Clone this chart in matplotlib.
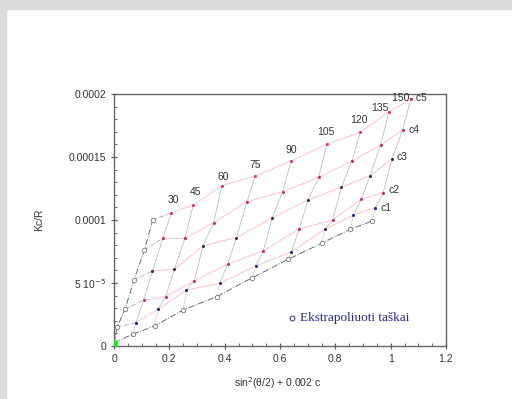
import numpy as np
import matplotlib
matplotlib.use("Agg")
import matplotlib.pyplot as plt
import matplotlib.ticker as ticker
from matplotlib.patches import Rectangle

plt.rcParams['font.family'] = ['Liberation Sans', 'DejaVu Sans']

# kampai (laipsniais) ir koncentracijos
angles = [30, 45, 60, 75, 90, 105, 120, 135, 150]
conc = [6, 20, 36, 55, 70]
conc_labels = ['c1', 'c2', 'c3', 'c4', 'c5']

# Kc/R, vienetais 1e-4 ; eilutes c1..c5, stulpeliai 30..150
kcr = [
    [0.185, 0.291, 0.444, 0.498, 0.635, 0.748, 0.926, 1.040, 1.098],
    [0.365, 0.391, 0.516, 0.648, 0.756, 0.929, 1.000, 1.164, 1.217],
    [0.595, 0.609, 0.796, 0.860, 1.018, 1.159, 1.260, 1.352, 1.484],
    [0.855, 0.855, 0.979, 1.145, 1.225, 1.339, 1.468, 1.595, 1.714],
    [1.056, 1.119, 1.272, 1.349, 1.468, 1.603, 1.696, 1.860, 1.958],
]
# ekstrapoliuoti taskai: theta -> 0 (kiekvienai c) ir c -> 0 (kiekvienam kampui)
theta0_kcr = [0.153, 0.291, 0.524, 0.762, 1.000]
c0_kcr = [0.093, 0.159, 0.286, 0.391, 0.542, 0.688, 0.815, 0.926, 0.992]
intercept = 0.026
scale = 1e-4

point_colors = ['#23237a', '#c8304c', '#333333', '#c8304c', '#d8385a']
row_color = '#f5bcc4'
col_color = '#bcbcd6'
extra_color = '#6a6a6a'

s2 = np.sin(np.radians(angles) / 2) ** 2
X = s2[None, :] + 0.002 * np.array(conc)[:, None]
Y = np.array(kcr) * scale
x_t0 = 0.002 * np.array(conc)
y_t0 = np.array(theta0_kcr) * scale
y_c0 = np.array(c0_kcr) * scale

fig = plt.figure(figsize=(5.12, 3.99), dpi=100)
# pilkas remelis virsuje ir kaireje
fig.patches.append(Rectangle((0, 1 - 9 / 399), 1, 9 / 399, transform=fig.transFigure,
                             color='#dcdcdc', zorder=0))
fig.patches.append(Rectangle((0, 0), 6 / 512, 1, transform=fig.transFigure,
                             color='#dcdcdc', zorder=0))

ax = fig.add_axes([114 / 512, 53 / 399, 332 / 512, 252 / 399])

# eilutes (pastovi c)
for i in range(len(conc)):
    ax.plot(X[i], Y[i], '-', color=row_color, lw=0.6, zorder=2)
    ax.plot([x_t0[i], X[i, 0]], [y_t0[i], Y[i, 0]], '-.', color='#999999',
            lw=0.5, zorder=2)
# stulpeliai (pastovus kampas)
for j in range(len(angles)):
    ax.plot(X[:, j], Y[:, j], '-', color=col_color, lw=0.6, zorder=2)
    ax.plot([s2[j], X[0, j]], [y_c0[j], Y[0, j]], ':', color='#999999',
            lw=0.6, zorder=2)

# ekstrapoliacijos linijos
ax.plot(np.r_[0, x_t0], np.r_[intercept * scale, y_t0], '-.', color=extra_color,
        lw=0.7, zorder=3)
ax.plot(np.r_[0, s2], np.r_[intercept * scale, y_c0], '-.', color=extra_color,
        lw=0.7, zorder=3)
ax.plot(x_t0, y_t0, 'o', mfc='white', mec='#777777', ms=3.2, mew=0.6, zorder=4)
ax.plot(s2, y_c0, 'o', mfc='white', mec='#777777', ms=3.2, mew=0.6, zorder=4)

for i in range(len(conc)):
    ax.plot(X[i], Y[i], 'o', color=point_colors[i], ms=2.2, mew=0, zorder=5)

ax.plot([0], [intercept * scale], 'o', color='#22dd22', ms=5, mew=0, zorder=6)

# kampu uzrasai
angle_offsets = [(2, 13), (2, 13), (1, 9), (0, 11), (0, 11), (-1, 12), (-1, 12), (-9, 4)]
for j, ang in enumerate(angles[:-1]):
    ax.annotate(str(ang), (X[-1, j], Y[-1, j]), xytext=angle_offsets[j],
                textcoords='offset pixels', ha='center', va='center', fontsize=7.5,
                color='#333333')
ax.annotate('150- c5', (X[-1, -1], Y[-1, -1]), xytext=(-1, 1),
            textcoords='offset pixels', ha='center', va='center', fontsize=7.5,
            color='#333333', zorder=7)
c_offsets = [(5, 0), (5, 3), (4, 2), (6, 0)]
for i in range(4):
    ax.annotate(conc_labels[i], (X[i, -1], Y[i, -1]), xytext=c_offsets[i],
                textcoords='offset pixels', ha='left', va='center', fontsize=7.5,
                color='#333333')

# legendos tekstas
ax.plot([0.535], [0.111], 'o', mfc='none', mec='#303080', ms=3.5, mew=0.7,
        transform=ax.transAxes, clip_on=False)
ax.text(0.56, 0.111, 'Ekstrapoliuoti taškai', transform=ax.transAxes,
        family=['Liberation Serif', 'DejaVu Serif'], fontsize=9.5, color='#2a2a80',
        va='center', ha='left')

ax.set_xlim(0, 1.2)
ax.set_ylim(0, 2e-4)
ax.set_xticks([0, 0.2, 0.4, 0.6, 0.8, 1.0, 1.2])
ax.set_xticklabels(['0', '0.2', '0.4', '0.6', '0.8', '1', '1.2'])
ax.set_yticks([0, 5e-5, 1e-4, 1.5e-4, 2e-4])
ax.set_yticklabels(['0', '5 10$^{-5}$', '0.0001', '0.00015', '0.0002'])
ax.xaxis.set_minor_locator(ticker.MultipleLocator(0.05))
ax.yaxis.set_minor_locator(ticker.MultipleLocator(1e-5))
ax.tick_params(which='major', direction='inout', length=5, width=0.8,
               colors='#555555', labelcolor='#333333', labelsize=7.5, pad=3)
ax.tick_params(which='minor', direction='in', length=2.5, width=0.6, colors='#555555')
for sp in ax.spines.values():
    sp.set_color('#666666')
    sp.set_linewidth(1.0)

ax.set_ylabel('Kc/R', fontsize=7.5, color='#333333')
ax.yaxis.set_label_coords(-0.21, 0.5)
ax.set_xlabel('sin$^{2}$(θ/2) + 0.002 c', fontsize=7.5, color='#333333')
ax.xaxis.set_label_coords(0.494, -0.115)

fig.savefig('out.png', dpi=100, facecolor='white')
